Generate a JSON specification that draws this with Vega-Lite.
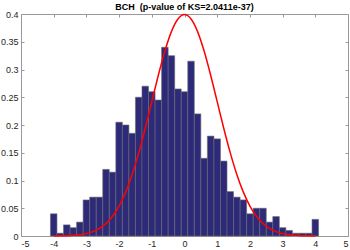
{
  "$schema": "https://vega.github.io/schema/vega-lite/v6.json",
  "width": 327,
  "height": 222,
  "autosize": {"type": "none"},
  "padding": {"left": 21, "top": 14, "right": 2, "bottom": 14},
  "background": "white",
  "title": {"text": "BCH\u00a0\u00a0(p-value of KS=2.0411e-37)", "fontSize": 9, "fontWeight": "bold", "font": "Liberation Sans", "color": "#000000", "anchor": "middle", "offset": -2},
  "config": {
    "view": {"stroke": null},
    "axis": {"labelFont": "Liberation Sans", "labelFontSize": 9, "labelColor": "#262626", "domainColor": "#999999", "tickColor": "#999999", "grid": false, "title": null, "tickSize": -3, "domainWidth": 1, "tickWidth": 1}
  },
  "datasets": {
    "bars": [
      {"lo": -4.1, "hi": -3.9, "density": 0.04},
      {"lo": -3.9, "hi": -3.7, "density": 0.005},
      {"lo": -3.7, "hi": -3.5, "density": 0.02},
      {"lo": -3.5, "hi": -3.3, "density": 0.015},
      {"lo": -3.3, "hi": -3.1, "density": 0.025},
      {"lo": -3.1, "hi": -2.9, "density": 0.065},
      {"lo": -2.9, "hi": -2.7, "density": 0.07},
      {"lo": -2.7, "hi": -2.5, "density": 0.07},
      {"lo": -2.5, "hi": -2.3, "density": 0.12},
      {"lo": -2.3, "hi": -2.1, "density": 0.115},
      {"lo": -2.1, "hi": -1.9, "density": 0.205},
      {"lo": -1.9, "hi": -1.7, "density": 0.2},
      {"lo": -1.7, "hi": -1.5, "density": 0.185},
      {"lo": -1.5, "hi": -1.3, "density": 0.25},
      {"lo": -1.3, "hi": -1.1, "density": 0.27},
      {"lo": -1.1, "hi": -0.9, "density": 0.26},
      {"lo": -0.9, "hi": -0.7, "density": 0.245},
      {"lo": -0.7, "hi": -0.5, "density": 0.34},
      {"lo": -0.5, "hi": -0.3, "density": 0.325},
      {"lo": -0.3, "hi": -0.1, "density": 0.265},
      {"lo": -0.1, "hi": 0.1, "density": 0.26},
      {"lo": 0.1, "hi": 0.3, "density": 0.315},
      {"lo": 0.3, "hi": 0.5, "density": 0.22},
      {"lo": 0.5, "hi": 0.7, "density": 0.14},
      {"lo": 0.7, "hi": 0.9, "density": 0.18},
      {"lo": 0.9, "hi": 1.1, "density": 0.175},
      {"lo": 1.1, "hi": 1.3, "density": 0.135},
      {"lo": 1.3, "hi": 1.5, "density": 0.08},
      {"lo": 1.5, "hi": 1.7, "density": 0.07},
      {"lo": 1.7, "hi": 1.9, "density": 0.065},
      {"lo": 1.9, "hi": 2.1, "density": 0.04},
      {"lo": 2.1, "hi": 2.3, "density": 0.05},
      {"lo": 2.3, "hi": 2.5, "density": 0.05},
      {"lo": 2.5, "hi": 2.7, "density": 0.025},
      {"lo": 2.7, "hi": 2.9, "density": 0.035},
      {"lo": 2.9, "hi": 3.1, "density": 0.015},
      {"lo": 3.1, "hi": 3.3, "density": 0.01},
      {"lo": 3.3, "hi": 3.5, "density": 0.005},
      {"lo": 3.5, "hi": 3.7, "density": 0.005},
      {"lo": 3.7, "hi": 3.9, "density": 0.005},
      {"lo": 3.9, "hi": 4.1, "density": 0.03}
    ],
    "curve": [
      {"x": -4.0, "pdf": 0.0001}, {"x": -3.8, "pdf": 0.0003}, {"x": -3.6, "pdf": 0.0006}, {"x": -3.4, "pdf": 0.0012},
      {"x": -3.2, "pdf": 0.0024}, {"x": -3.0, "pdf": 0.0044}, {"x": -2.8, "pdf": 0.0079}, {"x": -2.6, "pdf": 0.0136},
      {"x": -2.4, "pdf": 0.0224}, {"x": -2.2, "pdf": 0.0355}, {"x": -2.0, "pdf": 0.054}, {"x": -1.8, "pdf": 0.079},
      {"x": -1.6, "pdf": 0.1109}, {"x": -1.4, "pdf": 0.1497}, {"x": -1.2, "pdf": 0.1942}, {"x": -1.0, "pdf": 0.242},
      {"x": -0.8, "pdf": 0.2897}, {"x": -0.6, "pdf": 0.3332}, {"x": -0.4, "pdf": 0.3683}, {"x": -0.2, "pdf": 0.391},
      {"x": 0.0, "pdf": 0.3989},
      {"x": 0.2, "pdf": 0.391}, {"x": 0.4, "pdf": 0.3683}, {"x": 0.6, "pdf": 0.3332}, {"x": 0.8, "pdf": 0.2897},
      {"x": 1.0, "pdf": 0.242}, {"x": 1.2, "pdf": 0.1942}, {"x": 1.4, "pdf": 0.1497}, {"x": 1.6, "pdf": 0.1109},
      {"x": 1.8, "pdf": 0.079}, {"x": 2.0, "pdf": 0.054}, {"x": 2.2, "pdf": 0.0355}, {"x": 2.4, "pdf": 0.0224},
      {"x": 2.6, "pdf": 0.0136}, {"x": 2.8, "pdf": 0.0079}, {"x": 3.0, "pdf": 0.0044}, {"x": 3.2, "pdf": 0.0024},
      {"x": 3.4, "pdf": 0.0012}, {"x": 3.6, "pdf": 0.0006}, {"x": 3.8, "pdf": 0.0003}, {"x": 4.0, "pdf": 0.0001}
    ]
  },
  "layer": [
    {
      "data": {"name": "bars"},
      "mark": {"type": "rect", "fill": "#2e2a7a", "stroke": "#6a6a6a", "strokeWidth": 0.6},
      "encoding": {
        "x": {"field": "lo", "type": "quantitative", "scale": {"domain": [-5, 5], "nice": false, "zero": false},
              "axis": {"orient": "bottom", "values": [-5,-4,-3,-2,-1,0,1,2,3,4,5], "labelPadding": 6, "labelExpr": "'' + datum.value"}},
        "x2": {"field": "hi"},
        "y": {"field": "density", "type": "quantitative", "scale": {"domain": [0, 0.4], "nice": false},
              "axis": {"orient": "left", "values": [0,0.05,0.1,0.15,0.2,0.25,0.3,0.35,0.4], "labelExpr": "'' + datum.value", "labelPadding": 6}},
        "y2": {"datum": 0}
      }
    },
    {
      "data": {"name": "curve"},
      "mark": {"type": "line", "color": "#ff0000", "strokeWidth": 1.5, "interpolate": "monotone"},
      "encoding": {
        "x": {"field": "x", "type": "quantitative", "scale": {"domain": [-5, 5], "nice": false, "zero": false},
              "axis": {"orient": "top", "values": [-5,-4,-3,-2,-1,0,1,2,3,4,5], "labels": false, "labelPadding": 0}},
        "y": {"field": "pdf", "type": "quantitative", "scale": {"domain": [0, 0.4], "nice": false},
              "axis": {"orient": "right", "values": [0,0.05,0.1,0.15,0.2,0.25,0.3,0.35,0.4], "labels": false}}
      }
    }
  ],
  "resolve": {"axis": {"x": "independent", "y": "independent"}}
}
